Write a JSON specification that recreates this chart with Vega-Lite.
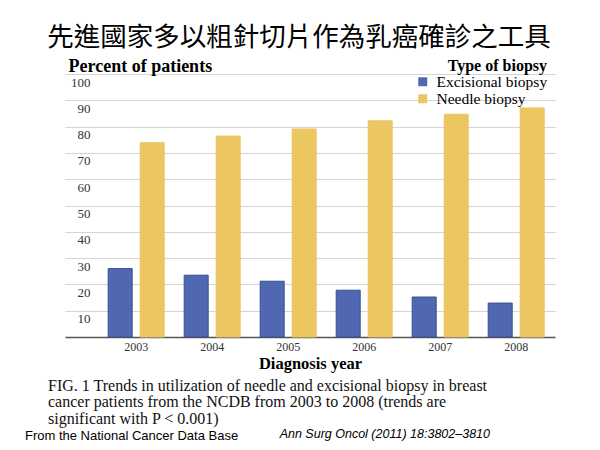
{
  "$schema": "https://vega.github.io/schema/vega-lite/v6.json",
  "background": "white",
  "padding": {"left": 25, "top": 24, "right": 5, "bottom": 5},
  "config": {"view": {"stroke": null}, "concat": {"spacing": 0}},
  "title": {"text": "先進國家多以粗針切片作為乳癌確診之工具", "font": "Noto Sans CJK TC", "fontSize": 26.5, "fontWeight": "normal", "color": "#000", "anchor": "middle", "offset": 6, "frame": "bounds", "dx": 9},
  "vconcat": [{
    "title": {"text": "Ann Surg Oncol (2011) 18:3802–3810", "orient": "bottom", "anchor": "end", "frame": "bounds", "font": "Liberation Sans", "fontStyle": "italic", "fontSize": 12.5, "fontWeight": "normal", "color": "#000", "offset": -15, "dx": -65},
    "vconcat": [{
      "title": {"text": "From the National Cancer Data Base", "orient": "bottom", "anchor": "start", "frame": "bounds", "font": "Liberation Sans", "fontSize": 13, "fontWeight": "normal", "color": "#000", "offset": 3, "dx": -23},
      "vconcat": [{
        "width": 490,
        "height": 263,
        "title": {"text": ["FIG. 1  Trends in utilization of needle and excisional biopsy in breast", "cancer patients from the NCDB from 2003 to 2008 (trends are", "significant with P < 0.001)"], "orient": "bottom", "anchor": "start", "frame": "bounds", "font": "Liberation Serif", "fontSize": 16, "fontWeight": "normal", "lineHeight": 16.5, "color": "#111", "offset": 6, "dx": -17},
        "data": {"values": [
          {"year": "2003", "type": "Excisional biopsy", "pct": 26.0},
          {"year": "2003", "type": "Needle biopsy", "pct": 73.9},
          {"year": "2004", "type": "Excisional biopsy", "pct": 23.5},
          {"year": "2004", "type": "Needle biopsy", "pct": 76.4},
          {"year": "2005", "type": "Excisional biopsy", "pct": 21.2},
          {"year": "2005", "type": "Needle biopsy", "pct": 79.1},
          {"year": "2006", "type": "Excisional biopsy", "pct": 17.8},
          {"year": "2006", "type": "Needle biopsy", "pct": 82.2},
          {"year": "2007", "type": "Excisional biopsy", "pct": 15.2},
          {"year": "2007", "type": "Needle biopsy", "pct": 84.7},
          {"year": "2008", "type": "Excisional biopsy", "pct": 12.9},
          {"year": "2008", "type": "Needle biopsy", "pct": 87.1}
        ]},
        "mark": {"type": "bar", "strokeWidth": 1},
        "encoding": {
          "x": {"field": "year", "type": "nominal", "title": "Diagnosis year",
            "scale": {"paddingInner": 0.263, "paddingOuter": 0.355, "align": 0.8},
            "axis": {"domain": true, "domainColor": "#555", "domainWidth": 1.5, "ticks": false, "labelAngle": 0, "labelFont": "Liberation Serif", "labelFontSize": 12, "labelColor": "#333", "labelPadding": 4, "titleFont": "Liberation Serif", "titleFontSize": 16.5, "titleFontWeight": "bold", "titlePadding": 3, "titleColor": "#000"}},
          "xOffset": {"field": "type", "type": "nominal", "scale": {"paddingInner": 0.25, "paddingOuter": 0}},
          "y": {"field": "pct", "type": "quantitative", "title": "Percent of patients",
            "scale": {"domain": [0, 100], "nice": false},
            "axis": {"values": [10, 20, 30, 40, 50, 60, 70, 80, 90, 100], "domain": false, "ticks": false, "tickSize": 0, "grid": true, "gridColor": "#d4d4d4", "gridWidth": 1, "labelAlign": "right", "labelPadding": -25, "labelBaseline": "top", "labelOffset": 2, "labelFont": "Liberation Serif", "labelFontSize": 13, "labelColor": "#333", "titleAngle": 0, "titleAlign": "left", "titleBaseline": "middle", "titleX": 3, "titleY": -8, "titleFont": "Liberation Serif", "titleFontSize": 18, "titleFontWeight": "bold", "titleColor": "#000"}},
          "color": {"field": "type", "type": "nominal",
            "scale": {"domain": ["Excisional biopsy", "Needle biopsy"], "range": ["#5068b1", "#ebc661"]},
            "legend": {"orient": "none", "legendX": 350, "legendY": -16, "padding": 0, "title": "Type of biopsy", "titleFont": "Liberation Serif", "titleFontSize": 16, "titleFontWeight": "bold", "titleColor": "#000", "titleAnchor": "end", "titlePadding": 0, "labelFont": "Liberation Serif", "labelFontSize": 15.5, "labelColor": "#000", "labelOffset": 6, "symbolType": "square", "symbolSize": 80, "symbolStrokeWidth": 0, "rowPadding": -6, "labelLimit": 300}},
          "stroke": {"field": "type", "type": "nominal",
            "scale": {"domain": ["Excisional biopsy", "Needle biopsy"], "range": ["#3a4f8f", "#ebc661"]},
            "legend": null}
        }
      }]
    }]
  }]
}
